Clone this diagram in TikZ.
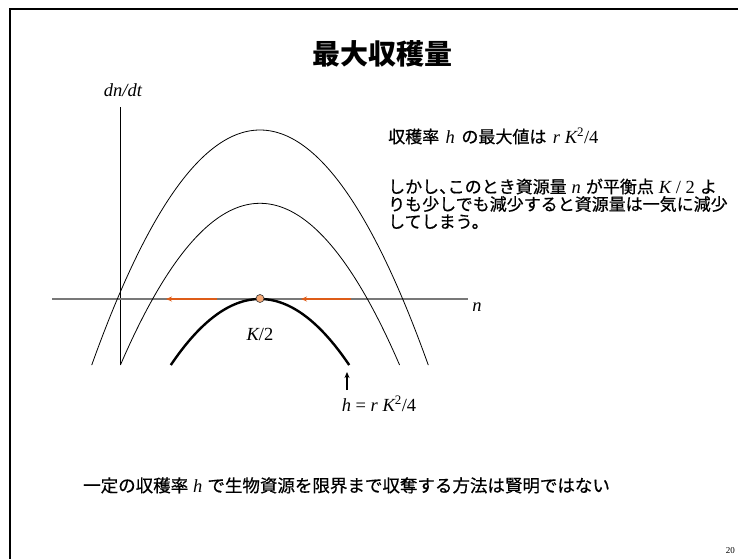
\documentclass[tikz,border=0pt]{standalone}
\usepackage{fontspec}
\setmainfont{Liberation Serif}
\newfontfamily\jp[FakeBold=0.6]{Noto Sans CJK JP}
\newfontfamily\jptitle{Noto Sans CJK JP}
\usetikzlibrary{arrows.meta}
\definecolor{arrorange}{RGB}{222,92,24}
\definecolor{dotorange}{RGB}{246,170,120}
\definecolor{axisgray}{RGB}{120,120,120}
\tikzset{
  curve/.style={black, line width=0.8pt},
  bigcurve/.style={black, line width=2.4pt},
  flow/.style={arrorange, line width=1.6pt, -{Stealth[length=6pt,width=5pt]}},
  jptext/.style={font=\jp\fontsize{17}{18}\selectfont, anchor=base west, inner sep=0pt},
  jpbottom/.style={font=\jp\fontsize{17.5}{18}\selectfont, anchor=base west, inner sep=0pt},
  serif/.style={font=\fontsize{18.5}{20}\selectfont, anchor=base, inner sep=0pt},
}
\newcommand{\vi}[1]{{\rmfamily\itshape\fontsize{18.5}{20}\selectfont #1}}
\newcommand{\vu}[1]{{\rmfamily\upshape\fontsize{18.5}{20}\selectfont #1}}
\newcommand{\gapsp}{\hspace{5pt}}
\newcommand{\midsp}{\hspace{6.5pt}}
\newcommand{\narrowcomma}{\makebox[0.5em][l]{、}}
\begin{document}
\begin{tikzpicture}[x=1pt,y=-1pt]
\useasboundingbox (0,0) rectangle (738,558);
% frame
\draw[line width=2pt] (10,560) -- (10,9) -- (740,9);
% title
\node[font=\jptitle\bfseries\fontsize{28}{30}\selectfont, anchor=base, inner sep=0pt] (title) at (382,64) {最大収穫量};
% axes
\coordinate (vtop) at (120,107);
\coordinate (vbot) at (120,365);
\draw[black, line width=0.8pt] (vtop) -- (vbot);
\coordinate (hl) at (52,299);
\coordinate (hr) at (468,299);
\draw[axisgray, line width=1.5pt] (hl) -- (hr);
\node[serif] (dndt) at (123,96) {\itshape dn/dt};
\node[serif] (nlab) at (477,311) {\itshape n};
% parabolas
\draw[curve, domain=91.7:428.3, samples=120] plot (\x, {130+83*((\x-260)/100)^2});
\draw[curve, domain=120.4:399.6, samples=120] plot (\x, {203.3+83*((\x-260)/100)^2});
\draw[bigcurve, domain=170.8:349.2, samples=120] plot (\x, {299+83*((\x-260)/100)^2});
% flow arrows
\coordinate (a1s) at (217,299); \coordinate (a1e) at (166,299);
\coordinate (a2s) at (351,299); \coordinate (a2e) at (301,299);
\draw[flow] (a1s) -- (a1e);
\draw[flow] (a2s) -- (a2e);
% equilibrium dot
\node[circle, draw=black!80, fill=dotorange, line width=0.6pt, minimum size=8pt, inner sep=0pt] (eq) at (260,298.5) {};
\node[serif] (khalf) at (260,340) {\itshape K\upshape/2};
% h arrow
\coordinate (hs) at (347,390);
\coordinate (he) at (347,372);
\draw[line width=1.2pt, -{Stealth[length=6pt,width=5pt]}] (hs) -- (he);
\node[serif] (hlab) at (379,411) {\itshape h \upshape= \itshape r K\upshape\textsuperscript{2}/4};
% right text
\node[jptext] (t1) at (388,143) {収穫率\midsp\vi{h}\midsp の最大値は\midsp\vi{r K}\vu{\textsuperscript{2}/4}};
\node[jptext] (t2) at (388,193) {しかし\narrowcomma このとき資源量\gapsp\vi{n}\gapsp が平衡点\gapsp\vi{K}\vu{ / 2}\gapsp よ};
\node[jptext] (t3) at (388,210.5) {りも少しでも減少すると資源量は一気に減少};
\node[jptext] (t4) at (388,228) {してしまう。};
% bottom text
\node[jpbottom] (t5) at (83,492) {一定の収穫率\gapsp\vi{h}\gapsp で生物資源を限界まで収奪する方法は賢明ではない};
% page number
\node[font=\fontsize{9}{10}\selectfont, anchor=base east, inner sep=0pt] (page) at (735,553) {20};
\end{tikzpicture}
\end{document}
